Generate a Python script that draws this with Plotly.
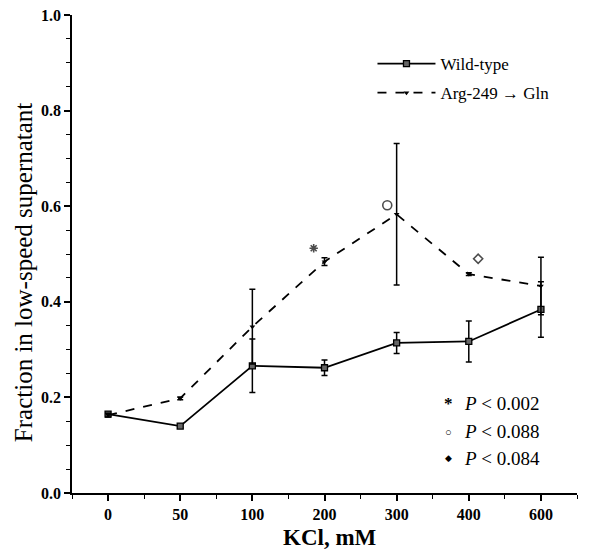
"""KCl titration: fraction of protein in low-speed supernatant."""

import plotly.graph_objects as go

kcl_labels = ["0", "50", "100", "200", "300", "400", "600"]

wild_type = [0.165, 0.140, 0.266, 0.262, 0.314, 0.317, 0.384]
wild_type_err = [0.004, 0.004, 0.056, 0.016, 0.022, 0.043, 0.058]

arg249_gln = [0.163, 0.198, 0.348, 0.484, 0.583, 0.458, 0.433]
arg249_gln_err = [0.004, 0.003, 0.078, 0.008, 0.148, 0.003, 0.060]

# significance marks drawn beside the mutant points
sig_x = [2.85, 3.87, 5.13]
sig_y = [0.512, 0.602, 0.490]
sig_symbols = ["asterisk-open", "circle-open", "diamond-open"]
sig_text = ["<i>P</i> &lt; 0.002", "<i>P</i> &lt; 0.088", "<i>P</i> &lt; 0.084"]
sig_chars = ["<b>*</b>", "○", "◆"]

FONT = "Liberation Serif, Times New Roman, serif"
x_pos = list(range(len(kcl_labels)))

fig = go.Figure()
fig.add_trace(go.Scatter(
    x=x_pos, y=wild_type, name="Wild-type", mode="lines+markers", legendgroup="wt",
    line=dict(color="black", width=1.8),
    marker=dict(symbol="square", size=6, color="#666", line=dict(color="black", width=1.3)),
    error_y=dict(type="data", array=wild_type_err, color="black", thickness=1.5, width=3),
))
fig.add_trace(go.Scatter(
    x=x_pos, y=arg249_gln, name="Arg-249 → Gln", mode="lines+markers", legendgroup="mut",
    line=dict(color="black", width=1.8, dash="dash"),
    marker=dict(symbol="triangle-down", size=5, color="black"),
    error_y=dict(type="data", array=arg249_gln_err, color="black", thickness=1.5, width=3),
))
fig.add_trace(go.Scatter(
    x=sig_x, y=sig_y, mode="markers", showlegend=False,
    marker=dict(symbol=sig_symbols, size=[7, 9, 7], color="black", line=dict(color="black", width=1.6)),
))

legend_y = [0.188, 0.128, 0.073]
char_size = [17, 11, 9]
for ch, cs, txt, yy in zip(sig_chars, char_size, sig_text, legend_y):
    fig.add_annotation(xref="paper", yref="paper", x=0.746, y=yy, text=ch,
                       showarrow=False, xanchor="center", yanchor="middle",
                       font=dict(family=FONT, size=cs, color="black"))
    fig.add_annotation(xref="paper", yref="paper", x=0.772, y=yy, text=txt,
                       showarrow=False, xanchor="left", yanchor="middle",
                       font=dict(family=FONT, size=19, color="black"))

# axis titles placed as annotations to match the original spacing
fig.add_annotation(xref="paper", yref="paper", x=0.511, y=-0.094, text="<b>KCl, mM</b>",
                   showarrow=False, xanchor="center", yanchor="middle",
                   font=dict(family=FONT, size=23, color="black"))
fig.add_annotation(xref="paper", yref="paper", x=-0.097, y=0.462,
                   text="Fraction in low-speed supernatant", textangle=-90,
                   showarrow=False, xanchor="center", yanchor="middle",
                   font=dict(family=FONT, size=25, color="black"))

fig.update_layout(
    width=595, height=550,
    margin=dict(l=72, r=18, t=15, b=57),
    paper_bgcolor="white", plot_bgcolor="white",
    font=dict(family=FONT, color="black"),
    showlegend=True,
    legend=dict(x=0.595, y=0.935, xanchor="left", yanchor="top",
                bgcolor="rgba(0,0,0,0)", font=dict(family=FONT, size=17, color="black"),
                tracegroupgap=4, itemwidth=58),
)
fig.update_xaxes(
    range=[-0.5, 6.5], tickmode="array", tickvals=x_pos, ticktext=kcl_labels,
    automargin=False,
    showline=True, linecolor="black", linewidth=1.5, showgrid=False, zeroline=False,
    ticks="outside", ticklen=6, tickwidth=1.5, tickcolor="black",
    tickfont=dict(family=FONT, size=16, weight="bold", color="black"),
    minor=dict(tick0=0, dtick=0.5, ticks="outside", ticklen=4, tickwidth=1.2, tickcolor="black"),
)
fig.update_yaxes(
    range=[0, 1.0], dtick=0.2, tickformat=".1f", automargin=False,
    showline=True, linecolor="black", linewidth=1.5, showgrid=False, zeroline=False,
    ticks="outside", ticklen=6, tickwidth=1.5, tickcolor="black",
    tickfont=dict(family=FONT, size=16, weight="bold", color="black"),
    minor=dict(dtick=0.05, ticks="outside", ticklen=4, tickwidth=1.2, tickcolor="black"),
)

# the page body has a default margin; drop it so the figure sits at the corner
fig.write_html("out.html", config={"displayModeBar": False},
               post_script="document.body.style.margin='0';")
